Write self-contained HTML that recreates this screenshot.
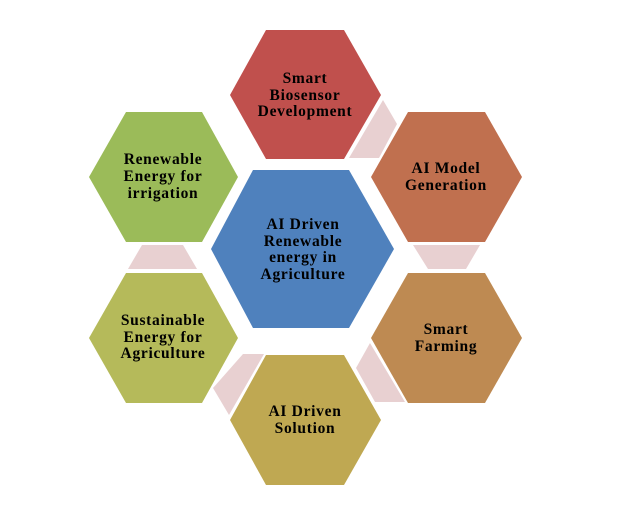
<!DOCTYPE html>
<html><head><meta charset="utf-8"><style>html,body{margin:0;padding:0;background:#fff}svg{display:block}</style></head><body>
<svg width="644" height="506" viewBox="0 0 644 506" xmlns="http://www.w3.org/2000/svg" font-family="'Liberation Serif', serif" font-weight="bold" font-size="15.5" letter-spacing="0.7" text-anchor="middle" fill="#000">
<g fill="#E8D0D1">
<polygon points="383,100 397,124 379,158 349,158"/>
<polygon points="413,245 480,245 466,269 428,269"/>
<polygon points="370,343 405,402 375,402 356,368"/>
<polygon points="243,354 264,354 229,415 213,388"/>
<polygon points="142,245 183,245 197,269 128,269"/>
</g>
<polygon fill="#C0504D" points="230,95 266,30 344,30 381,95 344,159 266,159"/>
<polygon fill="#9BBB59" points="89,177 126,112 202,112 238,177 202,242 126,242"/>
<polygon fill="#C0704F" points="371,177 408,112 485,112 522,177 485,242 408,242"/>
<polygon fill="#4F81BD" points="211,249 253,170 349,170 394,249 349,328 253,328"/>
<polygon fill="#B5BA5A" points="89,338 126,273 202,273 238,338 202,403 126,403"/>
<polygon fill="#BE8A52" points="371,338 408,273 485,273 522,338 485,403 408,403"/>
<polygon fill="#BFA852" points="230,420 266,355 344,355 381,420 344,485 266,485"/>
<g>
<text x="305" y="83">Smart</text><text x="305" y="100">Biosensor</text><text x="305" y="116">Development</text>
<text x="163" y="164">Renewable</text><text x="163" y="181">Energy for</text><text x="163" y="198">irrigation</text>
<text x="446" y="173">AI Model</text><text x="446" y="190">Generation</text>
<text x="303" y="229">AI Driven</text><text x="303" y="246">Renewable</text><text x="303" y="262">energy in</text><text x="303" y="279">Agriculture</text>
<text x="163" y="325">Sustainable</text><text x="163" y="342">Energy for</text><text x="163" y="358">Agriculture</text>
<text x="446" y="334">Smart</text><text x="446" y="351">Farming</text>
<text x="305" y="416">AI Driven</text><text x="305" y="433">Solution</text>
</g>
</svg>
</body></html>
